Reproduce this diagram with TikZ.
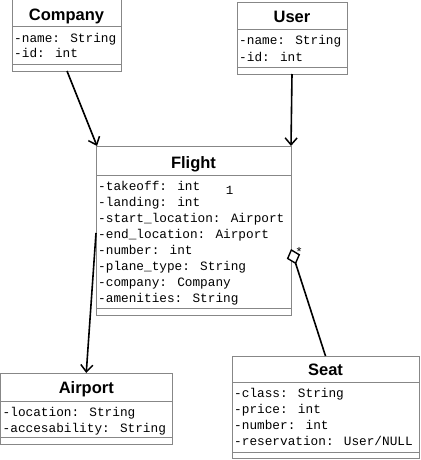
\documentclass[tikz,border=0pt]{standalone}
\usepackage{fontspec}
\newfontfamily\sansfam{Liberation Sans}
\newfontfamily\monofam{Liberation Mono}
\usetikzlibrary{arrows.meta,calc}
\definecolor{bordergray}{RGB}{135,135,135}
\tikzset{
  cls/.style={draw=bordergray, line width=1pt, inner sep=0pt, outer sep=0pt, anchor=north west, fill=white},
  sepline/.style={draw=bordergray, line width=1pt},
  ttl/.style={font={\sansfam\bfseries\fontsize{16.5}{18}\selectfont}, anchor=base, inner sep=0pt},
  attr/.style={font={\monofam\fontsize{12.75}{14}\selectfont}, anchor=base west, inner sep=0pt},
  mult/.style={font={\monofam\fontsize{12.5}{14}\selectfont}, anchor=base, inner sep=0pt},
  conn/.style={line width=1.6pt, black},
  assoc/.style={conn, -{Straight Barb[length=7pt,width=12pt,line width=1.5pt]}},
  aggr/.style={conn, {Diamond[length=16pt,width=14pt,fill=white,line width=1.4pt]}-},
}
\begin{document}
\begin{tikzpicture}[x=1pt,y=1pt]
\useasboundingbox[fill=white] (0,0) rectangle (420,-460);

% Company
\node[cls, minimum width=109pt, minimum height=71pt] (company) at (12,0) {};
\draw[sepline] ([yshift=-27pt]company.north west) -- ([yshift=-27pt]company.north east);
\draw[sepline] ([yshift=-64pt]company.north west) -- ([yshift=-64pt]company.north east);
\node[ttl] (companyT) at ([yshift=-21pt]company.north) {Company};
\node[attr] (companyA1) at ([xshift=2pt,yshift=-42pt]company.north west) {-name: String};
\node[attr] (companyA2) at ([xshift=2pt,yshift=-58pt]company.north west) {-id: int};

% User
\node[cls, minimum width=110pt, minimum height=71pt] (user) at (237,-3) {};
\draw[sepline] ([yshift=-27pt]user.north west) -- ([yshift=-27pt]user.north east);
\draw[sepline] ([yshift=-64pt]user.north west) -- ([yshift=-64pt]user.north east);
\node[ttl] (userT) at ([yshift=-20pt]user.north) {User};
\node[attr] (userA1) at ([xshift=2pt,yshift=-42pt]user.north west) {-name: String};
\node[attr] (userA2) at ([xshift=2pt,yshift=-58pt]user.north west) {-id: int};

% Flight
\node[cls, minimum width=195pt, minimum height=169pt] (flight) at (96,-146) {};
\draw[sepline] ([yshift=-29pt]flight.north west) -- ([yshift=-29pt]flight.north east);
\draw[sepline] ([yshift=-162pt]flight.north west) -- ([yshift=-162pt]flight.north east);
\node[ttl] (flightT) at ([yshift=-22pt]flight.north) {Flight};
\node[attr] (flightA1) at ([xshift=2pt,yshift=-44pt]flight.north west) {-takeoff: int};
\node[attr] (flightA2) at ([xshift=2pt,yshift=-60pt]flight.north west) {-landing: int};
\node[attr] (flightA3) at ([xshift=2pt,yshift=-76pt]flight.north west) {-start\_location: Airport};
\node[attr] (flightA4) at ([xshift=2pt,yshift=-92pt]flight.north west) {-end\_location: Airport};
\node[attr] (flightA5) at ([xshift=2pt,yshift=-108pt]flight.north west) {-number: int};
\node[attr] (flightA6) at ([xshift=2pt,yshift=-124pt]flight.north west) {-plane\_type: String};
\node[attr] (flightA7) at ([xshift=2pt,yshift=-140pt]flight.north west) {-company: Company};
\node[attr] (flightA8) at ([xshift=2pt,yshift=-156pt]flight.north west) {-amenities: String};

% Airport
\node[cls, minimum width=171.5pt, minimum height=71pt] (airport) at (0.5,-373) {};
\draw[sepline] ([yshift=-28pt]airport.north west) -- ([yshift=-28pt]airport.north east);
\draw[sepline] ([yshift=-64pt]airport.north west) -- ([yshift=-64pt]airport.north east);
\node[ttl] (airportT) at ([yshift=-20pt]airport.north) {Airport};
\node[attr] (airportA1) at ([xshift=2pt,yshift=-43pt]airport.north west) {-location: String};
\node[attr] (airportA2) at ([xshift=2pt,yshift=-59pt]airport.north west) {-accesability: String};

% Seat
\node[cls, minimum width=187pt, minimum height=102pt] (seat) at (232,-356) {};
\draw[sepline] ([yshift=-26pt]seat.north west) -- ([yshift=-26pt]seat.north east);
\draw[sepline] ([yshift=-96pt]seat.north west) -- ([yshift=-96pt]seat.north east);
\node[ttl] (seatT) at ([yshift=-19pt]seat.north) {Seat};
\node[attr] (seatA1) at ([xshift=2pt,yshift=-41pt]seat.north west) {-class: String};
\node[attr] (seatA2) at ([xshift=2pt,yshift=-57pt]seat.north west) {-price: int};
\node[attr] (seatA3) at ([xshift=2pt,yshift=-73pt]seat.north west) {-number: int};
\node[attr] (seatA4) at ([xshift=2pt,yshift=-89pt]seat.north west) {-reservation: User/NULL};

% connectors
\draw[assoc] ([xshift=55pt]company.south west) -- ([xshift=1pt]flight.north west);
\draw[assoc] ([xshift=55pt]user.south west) -- (flight.north east);
\draw[assoc] ([yshift=-87pt]flight.north west) -- (airport.north);
\draw[aggr] ([yshift=-103pt]flight.north east) -- (seat.north);

% multiplicities
\node[mult] (m1) at (229.5,-194) {1};
\node[mult] (m2) at (299,-256) {*};
\end{tikzpicture}
\end{document}
